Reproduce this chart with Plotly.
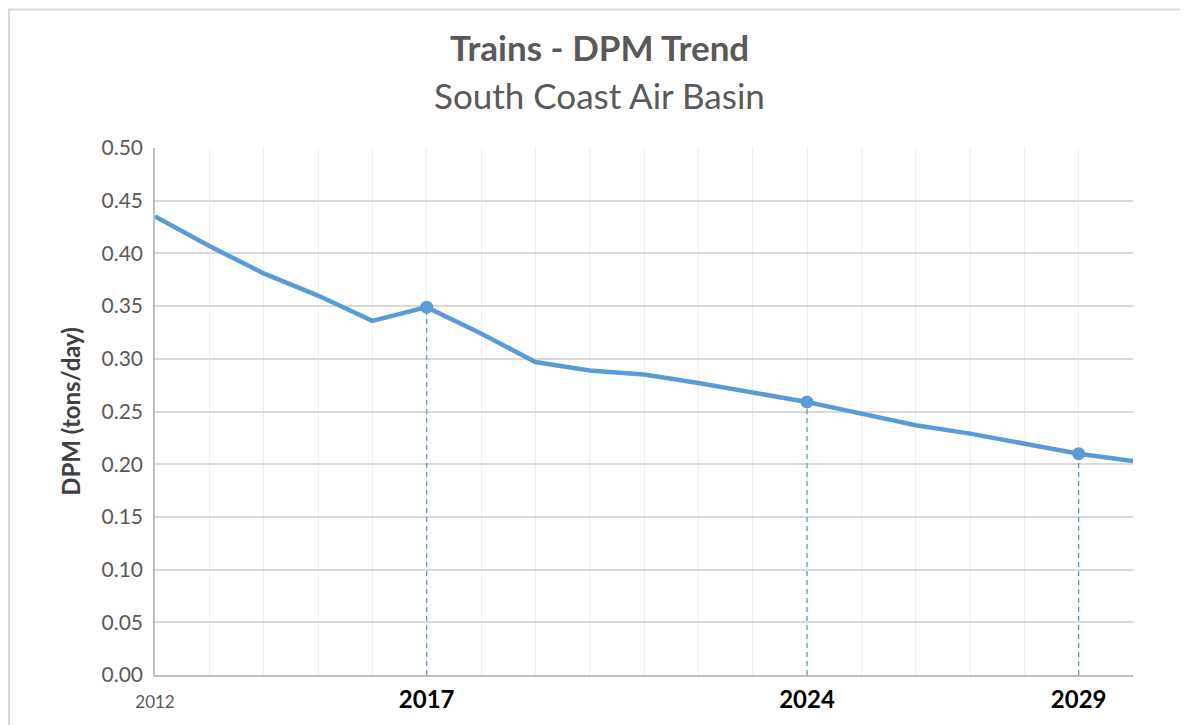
import plotly.graph_objects as go

years = list(range(2012, 2031))
dpm = [0.435, 0.407, 0.381, 0.360, 0.336, 0.349, 0.324, 0.297, 0.289, 0.285,
       0.277, 0.268, 0.259, 0.248, 0.237, 0.229, 0.220, 0.210, 0.203]
highlight_years = [2017, 2024, 2029]
tick_years = [2012, 2017, 2024, 2029]
tick_labels = ['<span style="font-size:17px;color:#595959">2012</span>',
               '<b>2017</b>', '<b>2024</b>', '<b>2029</b>']
title_text = "Trains - DPM Trend"
subtitle_text = "South Coast Air Basin"

color = "#5b9bd5"
font = "Lato, Open Sans, sans-serif"

fig = go.Figure()
fig.add_trace(go.Scatter(x=years, y=dpm, mode="lines",
                         line=dict(color=color, width=4.5), hoverinfo="x+y"))
hv = [dpm[years.index(y)] for y in highlight_years]
for yr, v in zip(highlight_years, hv):
    fig.add_trace(go.Scatter(x=[yr, yr], y=[0, v], mode="lines",
                             line=dict(color=color, width=1.3, dash="5px,4px"),
                             hoverinfo="skip"))
fig.add_trace(go.Scatter(x=highlight_years, y=hv, mode="markers",
                         marker=dict(color=color, size=13)))

W, H = 1180, 717
L, R, T, B = 147, 55, 140, 48
pw, ph = W - L - R, H - T - B


def px_x(fx):
    return (fx - L) / pw


def px_y(fy):
    return (T + ph - fy) / ph


fig.update_layout(
    width=W, height=H,
    margin=dict(l=L, r=R, t=T, b=B),
    paper_bgcolor="white", plot_bgcolor="white",
    showlegend=False,
    font=dict(family=font, color="#595959"),
    annotations=[
        dict(text="<b>" + title_text + "</b>", xref="paper", yref="paper",
             x=px_x(591), y=px_y(39), xanchor="center", yanchor="middle",
             showarrow=False, font=dict(size=35, color="#595959", family=font)),
        dict(text=subtitle_text, xref="paper", yref="paper",
             x=px_x(591), y=px_y(87), xanchor="center", yanchor="middle",
             showarrow=False, font=dict(size=35, color="#595959", family=font)),
    ],
    xaxis=dict(range=[2012, 2030], tickvals=tick_years, ticktext=tick_labels,
               tickfont=dict(size=24, color="black", family=font),
               showgrid=True, gridcolor="#eeeeee", gridwidth=1,
               minor=dict(dtick=1, showgrid=True, gridcolor="#eeeeee", gridwidth=1),
               showline=True, linecolor="#bfbfbf", linewidth=1.5,
               ticks="", zeroline=False, ticklabelstandoff=2),
    yaxis=dict(range=[0, 0.5], dtick=0.05, tickformat=".2f",
               tickfont=dict(size=21, color="#595959", family=font),
               showgrid=True, gridcolor="#d9d9d9", gridwidth=1.5,
               showline=True, linecolor="#bfbfbf", linewidth=1.5,
               zeroline=False, ticks="", ticklabelstandoff=6,
               title=dict(text="<b>DPM (tons/day)</b>", standoff=14,
                          font=dict(size=24, color="#404040", family=font))),
    shapes=[dict(type="rect", xref="paper", yref="paper",
                 x0=px_x(1), x1=px_x(W - 2),
                 y0=-0.2, y1=px_y(1),
                 line=dict(color="#d9d9d9", width=2), layer="below")],
)

fig.write_html("out.html")
